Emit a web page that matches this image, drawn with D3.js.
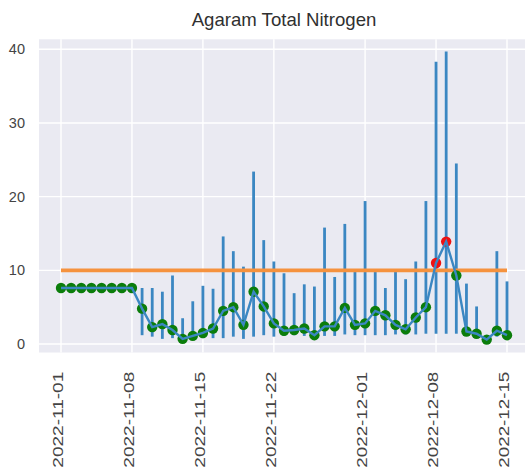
<!DOCTYPE html>
<html>
<head>
<meta charset="utf-8">
<script src="https://cdn.jsdelivr.net/npm/d3@7"></script>
<style>
  body { margin: 0; background: #fff; }
  svg { display: block; font-family: "Liberation Sans", Arial, sans-serif; }
</style>
</head>
<body>
<div id="chart"></div>
<script>
const width = 525, height = 470;

// daily readings, 2022-11-01 .. 2022-12-15
const dates = [
  "2022-11-01","2022-11-02","2022-11-03","2022-11-04","2022-11-05","2022-11-06","2022-11-07","2022-11-08",
  "2022-11-09","2022-11-10","2022-11-11","2022-11-12","2022-11-13","2022-11-14","2022-11-15","2022-11-16",
  "2022-11-17","2022-11-18","2022-11-19","2022-11-20","2022-11-21","2022-11-22","2022-11-23","2022-11-24",
  "2022-11-25","2022-11-26","2022-11-27","2022-11-28","2022-11-29","2022-11-30","2022-12-01","2022-12-02",
  "2022-12-03","2022-12-04","2022-12-05","2022-12-06","2022-12-07","2022-12-08","2022-12-09","2022-12-10",
  "2022-12-11","2022-12-12","2022-12-13","2022-12-14","2022-12-15"
];
const values = [
  7.6, 7.6, 7.6, 7.6, 7.6, 7.6, 7.6, 7.6,
  4.8, 2.3, 2.7, 1.9, 0.7, 1.1, 1.5, 2.1,
  4.5, 5.0, 2.6, 7.1, 5.1, 2.8, 1.8, 1.9,
  2.1, 1.2, 2.4, 2.4, 4.9, 2.6, 2.8, 4.5,
  3.9, 2.6, 2.0, 3.6, 5.0, 11.0, 13.9, 9.3,
  1.7, 1.4, 0.6, 1.8, 1.2
];
// range bars (max / min), none for the first week
const highs = [
  null, null, null, null, null, null, null, null,
  7.6, 7.6, 7.1, 9.3, 3.5, 5.8, 7.9, 7.5,
  14.6, 12.6, 10.5, 23.4, 14.1, 11.2, 9.6, 6.9,
  8.1, 7.8, 15.8, 9.1, 16.3, 9.8, 19.4, 10.0,
  7.6, 9.8, 8.8, 11.2, 19.4, 38.3, 39.7, 24.5,
  8.2, 5.1, 1.0, 12.6, 8.5
];
const lows = [
  null, null, null, null, null, null, null, null,
  1.2, 1.0, 0.7, 0.8, 0.4, 0.6, 0.8, 0.8,
  0.8, 1.0, 0.7, 1.0, 1.2, 1.0, 1.1, 1.2,
  1.1, 0.8, 1.1, 1.1, 1.3, 1.2, 1.2, 1.2,
  1.2, 1.3, 1.3, 1.3, 1.4, 1.4, 1.4, 1.4,
  1.4, 1.2, 0.3, 1.0, 1.2
];
const limit = 10;
const yTicks = [0, 10, 20, 30, 40];
const xTicks = ["2022-11-01","2022-11-08","2022-11-15","2022-11-22","2022-12-01","2022-12-08","2022-12-15"];

const parse = d3.utcParse("%Y-%m-%d");
const panel = {left: 39, right: 529, top: 39.3, bottom: 352.5};

const data = dates.map((d, i) => ({date: parse(d), v: values[i], hi: highs[i], lo: lows[i]}));

const svg = d3.select("#chart").append("svg")
  .attr("width", width)
  .attr("height", height)
  .attr("viewBox", `0 0 ${width} ${height}`);

var x = d3.scaleUtc()
  .domain([parse("2022-11-01"), parse("2022-12-15")])
  .range([61, 507]);
var y = d3.scaleLinear()
  .domain([-1.15, 41.35])
  .range([panel.bottom, panel.top]);

// panel background
svg.append("rect")
  .attr("x", panel.left).attr("y", panel.top)
  .attr("width", panel.right - panel.left)
  .attr("height", panel.bottom - panel.top)
  .attr("fill", "#eaeaf2");

// grid
svg.append("g").selectAll("line")
  .data(yTicks)
  .join("line")
  .attr("x1", panel.left).attr("x2", panel.right)
  .attr("y1", d => y(d)).attr("y2", d => y(d))
  .attr("stroke", "#fff").attr("stroke-width", 1.4);

svg.append("g").selectAll("line")
  .data(xTicks.map(parse))
  .join("line")
  .attr("x1", d => x(d)).attr("x2", d => x(d))
  .attr("y1", panel.top).attr("y2", panel.bottom)
  .attr("stroke", "#fff").attr("stroke-width", 1.4);

// y axis
const yAxis = svg.append("g")
  .attr("transform", `translate(${panel.left},0)`)
  .call(d3.axisLeft(y).tickValues(yTicks).tickSize(0).tickPadding(14));
yAxis.select(".domain").remove();
yAxis.selectAll("text")
  .attr("font-size", 14.5)
  .attr("font-family", "Liberation Sans, Arial, sans-serif")
  .attr("fill", "#444");

// x axis, rotated labels
const xAxis = svg.append("g")
  .attr("transform", `translate(0,${panel.bottom})`)
  .call(d3.axisBottom(x).tickValues(xTicks.map(parse)).tickSize(0).tickFormat(d3.utcFormat("%Y-%m-%d")));
xAxis.select(".domain").remove();
xAxis.selectAll("text")
  .attr("font-size", 15)
  .attr("font-family", "Liberation Sans, Arial, sans-serif")
  .attr("fill", "#444")
  .attr("text-anchor", "end")
  .attr("transform", "rotate(-90)")
  .attr("x", -19.2)
  .attr("y", 0)
  .attr("dy", "0.12em")
  .attr("textLength", 96)
  .attr("lengthAdjust", "spacingAndGlyphs");

// title
svg.append("text")
  .attr("x", (panel.left + panel.right) / 2)
  .attr("y", 26)
  .attr("text-anchor", "middle")
  .attr("font-size", 18.6)
  .attr("fill", "#303030")
  .text("Agaram Total Nitrogen");

const blue = "#3b87c2";

// range bars
svg.append("g").selectAll("line")
  .data(data.filter(d => d.hi != null))
  .join("line")
  .attr("x1", d => x(d.date)).attr("x2", d => x(d.date))
  .attr("y1", d => y(d.lo)).attr("y2", d => y(d.hi))
  .attr("stroke", blue).attr("stroke-width", 2.8);

// limit line
svg.append("line")
  .attr("x1", x(data[0].date)).attr("x2", x(data[data.length - 1].date))
  .attr("y1", y(limit)).attr("y2", y(limit))
  .attr("stroke", "#f5923e").attr("stroke-width", 3.6);

// markers
svg.append("g").selectAll("circle")
  .data(data)
  .join("circle")
  .attr("cx", d => x(d.date))
  .attr("cy", d => y(d.v))
  .attr("r", 5.2)
  .attr("fill", d => d.v > limit ? "#ee1111" : "#0b7d0b");

// value line
svg.append("path")
  .datum(data)
  .attr("fill", "none")
  .attr("stroke", blue)
  .attr("stroke-width", 2.4)
  .attr("d", d3.line().x(d => x(d.date)).y(d => y(d.v)));
</script>
</body>
</html>
